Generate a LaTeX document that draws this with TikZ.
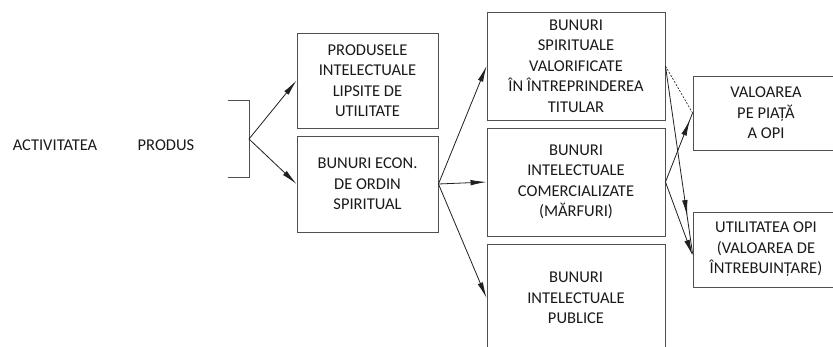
\documentclass[tikz,border=0pt]{standalone}
\usepackage{fontspec}
\setmainfont{Carlito}
\usetikzlibrary{arrows.meta,decorations.markings}
\definecolor{boxc}{HTML}{505050}
\definecolor{linec}{HTML}{202020}
\definecolor{txtc}{HTML}{1A1A1A}
\tikzset{
  box/.style={draw=boxc, line width=0.9pt, inner sep=0pt, align=center, text=txtc,
              font=\fontsize{16.5}{20.5}\selectfont},
  lbl/.style={inner sep=0pt, text=txtc, font=\fontsize{16.5}{20.5}\selectfont},
  arr/.style={draw=linec, line width=0.8pt, -{Latex[length=16pt,width=5.5pt]}},
  midarr/.style={draw=linec, line width=0.8pt, postaction={decorate},
     decoration={markings, mark=at position #1 with {\arrow{Latex[length=16pt,width=5.5pt]}}}},
  dashln/.style={draw=linec, line width=0.6pt, dash pattern=on 2pt off 1.5pt},
}
\begin{document}
\begin{tikzpicture}[x=1pt,y=-1pt]
\clip (0,0) rectangle (833,346);
\fill[white] (0,0) rectangle (833,346);
% labels
\node[lbl] (act) at (55,145) {ACTIVITATEA};
\node[lbl] (prod) at (166,145) {PRODUS};
% bracket
\coordinate (bt) at (228,100);
\coordinate (bb) at (228,177);
\coordinate (br) at (249,139);
\draw[draw=boxc, line width=0.9pt] (bt) -- (249,100) -- (249,177) -- (bb);
% boxes
\node[box, minimum width=141pt, minimum height=95pt] (A) at (367.5,80.5)
  {PRODUSELE\\INTELECTUALE\\LIPSITE DE\\UTILITATE};
\node[box, minimum width=141pt, minimum height=96pt] (B) at (367.5,184)
  {BUNURI ECON.\\DE ORDIN\\SPIRITUAL};
\node[box, minimum width=178pt, minimum height=108pt] (C) at (576,66)
  {BUNURI\\SPIRITUALE\\VALORIFICATE\\ÎN ÎNTREPRINDEREA\\TITULAR};
\node[box, minimum width=178pt, minimum height=108pt] (D) at (576,182)
  {BUNURI\\INTELECTUALE\\COMERCIALIZATE\\(MĂRFURI)};
\node[box, minimum width=178pt, minimum height=108pt] (E) at (576,298)
  {BUNURI\\INTELECTUALE\\PUBLICE};
\node[box, minimum width=146pt, minimum height=74pt] (F) at (766,113)
  {VALOAREA\\PE PIAȚĂ\\A OPI};
\node[box, minimum width=146pt, minimum height=75pt] (G) at (766,249.5)
  {UTILITATEA OPI\\(VALOAREA DE\\ÎNTREBUINȚARE)};
% connectors
\draw[arr] (br) -- (A.west);
\draw[arr] (br) -- (B.west);
\draw[arr] (B.east) -- (C.west);
\draw[arr] (B.east) -- (D.west);
\draw[arr] (B.east) -- (E.west);
\draw[dashln] (C.east) -- (F.west);
\draw[midarr=0.8] (C.east) -- ([yshift=-4pt]G.west);
\draw[midarr=0.9] (D.east) -- (F.west);
\draw[arr] (D.east) -- ([yshift=-6pt]G.west);
\end{tikzpicture}
\end{document}
